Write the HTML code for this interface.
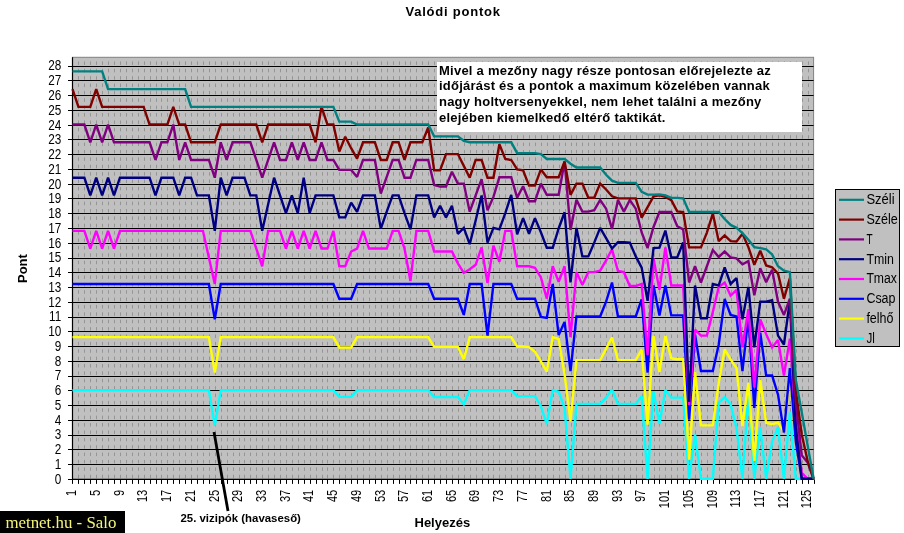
<!DOCTYPE html><html><head><meta charset="utf-8"><style>html,body{margin:0;padding:0;background:#fff;overflow:hidden;width:904px;height:533px}svg{display:block;will-change:transform}svg text{font-family:"Liberation Sans",sans-serif}svg text.serif{font-family:"Liberation Serif",serif}</style></head><body>
<svg width="904" height="533" viewBox="0 0 904 533">
<rect x="0" y="0" width="904" height="533" fill="#fff"/>
<rect x="72.5" y="57.3" width="741.1" height="422.09999999999997" fill="#c0c0c0" stroke="#808080" stroke-width="1"/>
<path d="M78.5 479.4V58.3M84.5 479.4V58.3M90.5 479.4V58.3M96.5 479.4V58.3M102.5 479.4V58.3M108.5 479.4V58.3M114.5 479.4V58.3M120.5 479.4V58.3M126.5 479.4V58.3M132.5 479.4V58.3M138.5 479.4V58.3M144.5 479.4V58.3M150.5 479.4V58.3M156.5 479.4V58.3M161.5 479.4V58.3M167.5 479.4V58.3M173.5 479.4V58.3M179.5 479.4V58.3M185.5 479.4V58.3M191.5 479.4V58.3M197.5 479.4V58.3M203.5 479.4V58.3M209.5 479.4V58.3M215.5 479.4V58.3M221.5 479.4V58.3M227.5 479.4V58.3M233.5 479.4V58.3M239.5 479.4V58.3M244.5 479.4V58.3M250.5 479.4V58.3M256.5 479.4V58.3M262.5 479.4V58.3M268.5 479.4V58.3M274.5 479.4V58.3M280.5 479.4V58.3M286.5 479.4V58.3M292.5 479.4V58.3M298.5 479.4V58.3M304.5 479.4V58.3M310.5 479.4V58.3M316.5 479.4V58.3M322.5 479.4V58.3M327.5 479.4V58.3M333.5 479.4V58.3M339.5 479.4V58.3M345.5 479.4V58.3M351.5 479.4V58.3M357.5 479.4V58.3M363.5 479.4V58.3M369.5 479.4V58.3M375.5 479.4V58.3M381.5 479.4V58.3M387.5 479.4V58.3M393.5 479.4V58.3M399.5 479.4V58.3M405.5 479.4V58.3M410.5 479.4V58.3M416.5 479.4V58.3M422.5 479.4V58.3M428.5 479.4V58.3M434.5 479.4V58.3M440.5 479.4V58.3M446.5 479.4V58.3M452.5 479.4V58.3M458.5 479.4V58.3M464.5 479.4V58.3M470.5 479.4V58.3M476.5 479.4V58.3M482.5 479.4V58.3M488.5 479.4V58.3M493.5 479.4V58.3M499.5 479.4V58.3M505.5 479.4V58.3M511.5 479.4V58.3M517.5 479.4V58.3M523.5 479.4V58.3M529.5 479.4V58.3M535.5 479.4V58.3M541.5 479.4V58.3M547.5 479.4V58.3M553.5 479.4V58.3M559.5 479.4V58.3M565.5 479.4V58.3M571.5 479.4V58.3M576.5 479.4V58.3M582.5 479.4V58.3M588.5 479.4V58.3M594.5 479.4V58.3M600.5 479.4V58.3M606.5 479.4V58.3M612.5 479.4V58.3M618.5 479.4V58.3M624.5 479.4V58.3M630.5 479.4V58.3M636.5 479.4V58.3M642.5 479.4V58.3M648.5 479.4V58.3M654.5 479.4V58.3M659.5 479.4V58.3M665.5 479.4V58.3M671.5 479.4V58.3M677.5 479.4V58.3M683.5 479.4V58.3M689.5 479.4V58.3M695.5 479.4V58.3M701.5 479.4V58.3M707.5 479.4V58.3M713.5 479.4V58.3M719.5 479.4V58.3M725.5 479.4V58.3M731.5 479.4V58.3M737.5 479.4V58.3M742.5 479.4V58.3M748.5 479.4V58.3M754.5 479.4V58.3M760.5 479.4V58.3M766.5 479.4V58.3M772.5 479.4V58.3M778.5 479.4V58.3M784.5 479.4V58.3M790.5 479.4V58.3M796.5 479.4V58.3M802.5 479.4V58.3M808.5 479.4V58.3" stroke="#959595" stroke-width="1" stroke-dasharray="0 1.19 3.5 3.88 3.5 2.69" fill="none"/>
<path d="M72.5 464.5H813.6M72.5 449.5H813.6M72.5 435.5H813.6M72.5 420.5H813.6M72.5 405.5H813.6M72.5 390.5H813.6M72.5 376.5H813.6M72.5 361.5H813.6M72.5 346.5H813.6M72.5 331.5H813.6M72.5 317.5H813.6M72.5 302.5H813.6M72.5 287.5H813.6M72.5 272.5H813.6M72.5 258.5H813.6M72.5 243.5H813.6M72.5 228.5H813.6M72.5 213.5H813.6M72.5 198.5H813.6M72.5 184.5H813.6M72.5 169.5H813.6M72.5 154.5H813.6M72.5 139.5H813.6M72.5 125.5H813.6M72.5 110.5H813.6M72.5 95.5H813.6M72.5 80.5H813.6M72.5 66.5H813.6" stroke="#000" stroke-width="1" fill="none"/>
<path d="M72.5 57.3V479.4H813.6" stroke="#000" stroke-width="1.2" fill="none"/>
<path d="M68.0 479.5H72.5M68.0 464.5H72.5M68.0 449.5H72.5M68.0 435.5H72.5M68.0 420.5H72.5M68.0 405.5H72.5M68.0 390.5H72.5M68.0 376.5H72.5M68.0 361.5H72.5M68.0 346.5H72.5M68.0 331.5H72.5M68.0 317.5H72.5M68.0 302.5H72.5M68.0 287.5H72.5M68.0 272.5H72.5M68.0 258.5H72.5M68.0 243.5H72.5M68.0 228.5H72.5M68.0 213.5H72.5M68.0 198.5H72.5M68.0 184.5H72.5M68.0 169.5H72.5M68.0 154.5H72.5M68.0 139.5H72.5M68.0 125.5H72.5M68.0 110.5H72.5M68.0 95.5H72.5M68.0 80.5H72.5M68.0 66.5H72.5" stroke="#000" stroke-width="1" fill="none"/>
<path d="M72.5 479.4V483.9M78.5 479.4V483.9M84.5 479.4V483.9M90.5 479.4V483.9M96.5 479.4V483.9M102.5 479.4V483.9M108.5 479.4V483.9M114.5 479.4V483.9M120.5 479.4V483.9M126.5 479.4V483.9M132.5 479.4V483.9M138.5 479.4V483.9M144.5 479.4V483.9M150.5 479.4V483.9M156.5 479.4V483.9M161.5 479.4V483.9M167.5 479.4V483.9M173.5 479.4V483.9M179.5 479.4V483.9M185.5 479.4V483.9M191.5 479.4V483.9M197.5 479.4V483.9M203.5 479.4V483.9M209.5 479.4V483.9M215.5 479.4V483.9M221.5 479.4V483.9M227.5 479.4V483.9M233.5 479.4V483.9M239.5 479.4V483.9M244.5 479.4V483.9M250.5 479.4V483.9M256.5 479.4V483.9M262.5 479.4V483.9M268.5 479.4V483.9M274.5 479.4V483.9M280.5 479.4V483.9M286.5 479.4V483.9M292.5 479.4V483.9M298.5 479.4V483.9M304.5 479.4V483.9M310.5 479.4V483.9M316.5 479.4V483.9M322.5 479.4V483.9M327.5 479.4V483.9M333.5 479.4V483.9M339.5 479.4V483.9M345.5 479.4V483.9M351.5 479.4V483.9M357.5 479.4V483.9M363.5 479.4V483.9M369.5 479.4V483.9M375.5 479.4V483.9M381.5 479.4V483.9M387.5 479.4V483.9M393.5 479.4V483.9M399.5 479.4V483.9M405.5 479.4V483.9M410.5 479.4V483.9M416.5 479.4V483.9M422.5 479.4V483.9M428.5 479.4V483.9M434.5 479.4V483.9M440.5 479.4V483.9M446.5 479.4V483.9M452.5 479.4V483.9M458.5 479.4V483.9M464.5 479.4V483.9M470.5 479.4V483.9M476.5 479.4V483.9M482.5 479.4V483.9M488.5 479.4V483.9M493.5 479.4V483.9M499.5 479.4V483.9M505.5 479.4V483.9M511.5 479.4V483.9M517.5 479.4V483.9M523.5 479.4V483.9M529.5 479.4V483.9M535.5 479.4V483.9M541.5 479.4V483.9M547.5 479.4V483.9M553.5 479.4V483.9M559.5 479.4V483.9M565.5 479.4V483.9M571.5 479.4V483.9M576.5 479.4V483.9M582.5 479.4V483.9M588.5 479.4V483.9M594.5 479.4V483.9M600.5 479.4V483.9M606.5 479.4V483.9M612.5 479.4V483.9M618.5 479.4V483.9M624.5 479.4V483.9M630.5 479.4V483.9M636.5 479.4V483.9M642.5 479.4V483.9M648.5 479.4V483.9M654.5 479.4V483.9M659.5 479.4V483.9M665.5 479.4V483.9M671.5 479.4V483.9M677.5 479.4V483.9M683.5 479.4V483.9M689.5 479.4V483.9M695.5 479.4V483.9M701.5 479.4V483.9M707.5 479.4V483.9M713.5 479.4V483.9M719.5 479.4V483.9M725.5 479.4V483.9M731.5 479.4V483.9M737.5 479.4V483.9M742.5 479.4V483.9M748.5 479.4V483.9M754.5 479.4V483.9M760.5 479.4V483.9M766.5 479.4V483.9M772.5 479.4V483.9M778.5 479.4V483.9M784.5 479.4V483.9M790.5 479.4V483.9M796.5 479.4V483.9M802.5 479.4V483.9M808.5 479.4V483.9M814.5 479.4V483.9" stroke="#000" stroke-width="1" fill="none"/>
<text transform="translate(61.3,483.7) scale(0.84,1)" font-size="14" text-anchor="end">0</text>
<text transform="translate(61.3,468.9) scale(0.84,1)" font-size="14" text-anchor="end">1</text>
<text transform="translate(61.3,454.2) scale(0.84,1)" font-size="14" text-anchor="end">2</text>
<text transform="translate(61.3,439.4) scale(0.84,1)" font-size="14" text-anchor="end">3</text>
<text transform="translate(61.3,424.7) scale(0.84,1)" font-size="14" text-anchor="end">4</text>
<text transform="translate(61.3,409.9) scale(0.84,1)" font-size="14" text-anchor="end">5</text>
<text transform="translate(61.3,395.1) scale(0.84,1)" font-size="14" text-anchor="end">6</text>
<text transform="translate(61.3,380.4) scale(0.84,1)" font-size="14" text-anchor="end">7</text>
<text transform="translate(61.3,365.6) scale(0.84,1)" font-size="14" text-anchor="end">8</text>
<text transform="translate(61.3,350.9) scale(0.84,1)" font-size="14" text-anchor="end">9</text>
<text transform="translate(61.3,336.1) scale(0.84,1)" font-size="14" text-anchor="end">10</text>
<text transform="translate(61.3,321.3) scale(0.84,1)" font-size="14" text-anchor="end">11</text>
<text transform="translate(61.3,306.6) scale(0.84,1)" font-size="14" text-anchor="end">12</text>
<text transform="translate(61.3,291.8) scale(0.84,1)" font-size="14" text-anchor="end">13</text>
<text transform="translate(61.3,277.1) scale(0.84,1)" font-size="14" text-anchor="end">14</text>
<text transform="translate(61.3,262.3) scale(0.84,1)" font-size="14" text-anchor="end">15</text>
<text transform="translate(61.3,247.5) scale(0.84,1)" font-size="14" text-anchor="end">16</text>
<text transform="translate(61.3,232.8) scale(0.84,1)" font-size="14" text-anchor="end">17</text>
<text transform="translate(61.3,218.0) scale(0.84,1)" font-size="14" text-anchor="end">18</text>
<text transform="translate(61.3,203.3) scale(0.84,1)" font-size="14" text-anchor="end">19</text>
<text transform="translate(61.3,188.5) scale(0.84,1)" font-size="14" text-anchor="end">20</text>
<text transform="translate(61.3,173.7) scale(0.84,1)" font-size="14" text-anchor="end">21</text>
<text transform="translate(61.3,159.0) scale(0.84,1)" font-size="14" text-anchor="end">22</text>
<text transform="translate(61.3,144.2) scale(0.84,1)" font-size="14" text-anchor="end">23</text>
<text transform="translate(61.3,129.5) scale(0.84,1)" font-size="14" text-anchor="end">24</text>
<text transform="translate(61.3,114.7) scale(0.84,1)" font-size="14" text-anchor="end">25</text>
<text transform="translate(61.3,99.9) scale(0.84,1)" font-size="14" text-anchor="end">26</text>
<text transform="translate(61.3,85.2) scale(0.84,1)" font-size="14" text-anchor="end">27</text>
<text transform="translate(61.3,70.4) scale(0.84,1)" font-size="14" text-anchor="end">28</text>
<text transform="translate(76.2,489.8) rotate(-90) scale(0.79,1)" font-size="14" text-anchor="end">1</text>
<text transform="translate(99.9,489.8) rotate(-90) scale(0.79,1)" font-size="14" text-anchor="end">5</text>
<text transform="translate(123.6,489.8) rotate(-90) scale(0.79,1)" font-size="14" text-anchor="end">9</text>
<text transform="translate(147.3,489.8) rotate(-90) scale(0.79,1)" font-size="14" text-anchor="end">13</text>
<text transform="translate(171.1,489.8) rotate(-90) scale(0.79,1)" font-size="14" text-anchor="end">17</text>
<text transform="translate(194.8,489.8) rotate(-90) scale(0.79,1)" font-size="14" text-anchor="end">21</text>
<text transform="translate(218.5,489.8) rotate(-90) scale(0.79,1)" font-size="14" text-anchor="end">25</text>
<text transform="translate(242.2,489.8) rotate(-90) scale(0.79,1)" font-size="14" text-anchor="end">29</text>
<text transform="translate(265.9,489.8) rotate(-90) scale(0.79,1)" font-size="14" text-anchor="end">33</text>
<text transform="translate(289.6,489.8) rotate(-90) scale(0.79,1)" font-size="14" text-anchor="end">37</text>
<text transform="translate(313.4,489.8) rotate(-90) scale(0.79,1)" font-size="14" text-anchor="end">41</text>
<text transform="translate(337.1,489.8) rotate(-90) scale(0.79,1)" font-size="14" text-anchor="end">45</text>
<text transform="translate(360.8,489.8) rotate(-90) scale(0.79,1)" font-size="14" text-anchor="end">49</text>
<text transform="translate(384.5,489.8) rotate(-90) scale(0.79,1)" font-size="14" text-anchor="end">53</text>
<text transform="translate(408.2,489.8) rotate(-90) scale(0.79,1)" font-size="14" text-anchor="end">57</text>
<text transform="translate(431.9,489.8) rotate(-90) scale(0.79,1)" font-size="14" text-anchor="end">61</text>
<text transform="translate(455.6,489.8) rotate(-90) scale(0.79,1)" font-size="14" text-anchor="end">65</text>
<text transform="translate(479.4,489.8) rotate(-90) scale(0.79,1)" font-size="14" text-anchor="end">69</text>
<text transform="translate(503.1,489.8) rotate(-90) scale(0.79,1)" font-size="14" text-anchor="end">73</text>
<text transform="translate(526.8,489.8) rotate(-90) scale(0.79,1)" font-size="14" text-anchor="end">77</text>
<text transform="translate(550.5,489.8) rotate(-90) scale(0.79,1)" font-size="14" text-anchor="end">81</text>
<text transform="translate(574.2,489.8) rotate(-90) scale(0.79,1)" font-size="14" text-anchor="end">85</text>
<text transform="translate(597.9,489.8) rotate(-90) scale(0.79,1)" font-size="14" text-anchor="end">89</text>
<text transform="translate(621.6,489.8) rotate(-90) scale(0.79,1)" font-size="14" text-anchor="end">93</text>
<text transform="translate(645.4,489.8) rotate(-90) scale(0.79,1)" font-size="14" text-anchor="end">97</text>
<text transform="translate(669.1,489.8) rotate(-90) scale(0.79,1)" font-size="14" text-anchor="end">101</text>
<text transform="translate(692.8,489.8) rotate(-90) scale(0.79,1)" font-size="14" text-anchor="end">105</text>
<text transform="translate(716.5,489.8) rotate(-90) scale(0.79,1)" font-size="14" text-anchor="end">109</text>
<text transform="translate(740.2,489.8) rotate(-90) scale(0.79,1)" font-size="14" text-anchor="end">113</text>
<text transform="translate(763.9,489.8) rotate(-90) scale(0.79,1)" font-size="14" text-anchor="end">117</text>
<text transform="translate(787.7,489.8) rotate(-90) scale(0.79,1)" font-size="14" text-anchor="end">121</text>
<text transform="translate(811.4,489.8) rotate(-90) scale(0.79,1)" font-size="14" text-anchor="end">125</text>
<polyline points="72.50,390.24 78.43,390.24 84.36,390.24 90.29,390.24 96.22,390.24 102.14,390.24 108.07,390.24 114.00,390.24 119.93,390.24 125.86,390.24 131.79,390.24 137.72,390.24 143.65,390.24 149.57,390.24 155.50,390.24 161.43,390.24 167.36,390.24 173.29,390.24 179.22,390.24 185.15,390.24 191.08,390.24 197.00,390.24 202.93,390.24 208.86,390.24 214.79,425.66 220.72,390.24 226.65,390.24 232.58,390.24 238.51,390.24 244.44,390.24 250.36,390.24 256.29,390.24 262.22,390.24 268.15,390.24 274.08,390.24 280.01,390.24 285.94,390.24 291.87,390.24 297.79,390.24 303.72,390.24 309.65,390.24 315.58,390.24 321.51,390.24 327.44,390.24 333.37,390.24 339.30,396.88 345.22,396.88 351.15,396.88 357.08,390.24 363.01,390.24 368.94,390.24 374.87,390.24 380.80,390.24 386.73,390.24 392.66,390.24 398.58,390.24 404.51,390.24 410.44,390.24 416.37,390.24 422.30,390.24 428.23,390.24 434.16,397.03 440.09,397.03 446.01,397.03 451.94,397.03 457.87,397.03 463.80,404.26 469.73,390.24 475.66,390.24 481.59,390.24 487.52,390.24 493.44,390.24 499.37,390.24 505.30,390.24 511.23,390.24 517.16,396.14 523.09,396.14 529.02,396.14 534.95,396.14 540.88,406.18 546.80,424.19 552.73,390.24 558.66,391.72 564.59,407.95 570.52,478.80 576.45,403.97 582.38,403.97 588.31,403.97 594.23,403.97 600.16,403.97 606.09,397.62 612.02,389.35 617.95,403.97 623.88,403.97 629.81,403.97 635.74,403.97 641.66,396.14 647.59,478.80 653.52,391.42 659.45,423.89 665.38,390.24 671.31,397.62 677.24,397.62 683.17,397.62 689.10,478.80 695.02,434.52 700.95,478.80 706.88,478.80 712.81,478.80 718.74,402.64 724.67,397.18 730.60,404.41 736.53,428.17 742.45,478.80 748.38,395.41 754.31,478.80 760.24,427.14 766.17,478.80 772.10,441.90 778.03,427.14 783.96,478.80 789.88,412.38 795.81,478.80 801.74,478.80 807.67,478.80 813.60,478.80" fill="none" stroke="#00FFFF" stroke-width="2.4" stroke-linejoin="miter" stroke-miterlimit="2"/>
<polyline points="72.50,337.10 78.43,337.10 84.36,337.10 90.29,337.10 96.22,337.10 102.14,337.10 108.07,337.10 114.00,337.10 119.93,337.10 125.86,337.10 131.79,337.10 137.72,337.10 143.65,337.10 149.57,337.10 155.50,337.10 161.43,337.10 167.36,337.10 173.29,337.10 179.22,337.10 185.15,337.10 191.08,337.10 197.00,337.10 202.93,337.10 208.86,337.10 214.79,372.53 220.72,337.10 226.65,337.10 232.58,337.10 238.51,337.10 244.44,337.10 250.36,337.10 256.29,337.10 262.22,337.10 268.15,337.10 274.08,337.10 280.01,337.10 285.94,337.10 291.87,337.10 297.79,337.10 303.72,337.10 309.65,337.10 315.58,337.10 321.51,337.10 327.44,337.10 333.37,337.10 339.30,347.44 345.22,347.44 351.15,347.44 357.08,337.10 363.01,337.10 368.94,337.10 374.87,337.10 380.80,337.10 386.73,337.10 392.66,337.10 398.58,337.10 404.51,337.10 410.44,337.10 416.37,337.10 422.30,337.10 428.23,337.10 434.16,346.85 440.09,346.85 446.01,346.85 451.94,346.85 457.87,346.85 463.80,359.24 469.73,337.10 475.66,337.10 481.59,337.10 487.52,337.10 493.44,337.10 499.37,337.10 505.30,337.10 511.23,337.10 517.16,346.55 523.09,346.55 529.02,347.14 534.95,351.86 540.88,361.31 546.80,371.64 552.73,337.10 558.66,339.17 564.59,374.45 570.52,421.24 576.45,360.13 582.38,360.13 588.31,360.13 594.23,360.13 600.16,360.13 606.09,348.91 612.02,337.55 617.95,360.13 623.88,360.13 629.81,360.13 635.74,360.13 641.66,349.65 647.59,424.63 653.52,335.92 659.45,371.94 665.38,335.92 671.31,358.36 677.24,359.24 683.17,359.24 689.10,459.61 695.02,371.94 700.95,425.37 706.88,425.37 712.81,425.37 718.74,382.86 724.67,349.35 730.60,359.39 736.53,368.10 742.45,426.25 748.38,382.86 754.31,460.79 760.24,379.91 766.17,422.71 772.10,424.19 778.03,422.71 783.96,431.57 789.88,375.48 795.81,441.90 801.74,478.80 807.67,478.80 813.60,478.80" fill="none" stroke="#FFFF00" stroke-width="2.4" stroke-linejoin="miter" stroke-miterlimit="2"/>
<polyline points="72.50,283.97 78.43,283.97 84.36,283.97 90.29,283.97 96.22,283.97 102.14,283.97 108.07,283.97 114.00,283.97 119.93,283.97 125.86,283.97 131.79,283.97 137.72,283.97 143.65,283.97 149.57,283.97 155.50,283.97 161.43,283.97 167.36,283.97 173.29,283.97 179.22,283.97 185.15,283.97 191.08,283.97 197.00,283.97 202.93,283.97 208.86,283.97 214.79,319.39 220.72,283.97 226.65,283.97 232.58,283.97 238.51,283.97 244.44,283.97 250.36,283.97 256.29,283.97 262.22,283.97 268.15,283.97 274.08,283.97 280.01,283.97 285.94,283.97 291.87,283.97 297.79,283.97 303.72,283.97 309.65,283.97 315.58,283.97 321.51,283.97 327.44,283.97 333.37,283.97 339.30,298.73 345.22,298.73 351.15,298.73 357.08,283.97 363.01,283.97 368.94,283.97 374.87,283.97 380.80,283.97 386.73,283.97 392.66,283.97 398.58,283.97 404.51,283.97 410.44,283.97 416.37,283.97 422.30,283.97 428.23,283.97 434.16,298.73 440.09,298.73 446.01,298.73 451.94,298.73 457.87,298.73 463.80,314.96 469.73,283.97 475.66,283.97 481.59,283.97 487.52,335.63 493.44,283.97 499.37,283.97 505.30,283.97 511.23,283.97 517.16,298.73 523.09,298.73 529.02,298.73 534.95,298.73 540.88,316.88 546.80,317.92 552.73,283.97 558.66,335.04 564.59,321.90 570.52,371.05 576.45,316.44 582.38,316.44 588.31,316.44 594.23,316.44 600.16,316.44 606.09,301.68 612.02,282.49 617.95,316.44 623.88,316.44 629.81,316.44 635.74,316.44 641.66,299.47 647.59,372.53 653.52,285.44 659.45,315.41 665.38,285.44 671.31,315.41 677.24,315.41 683.17,315.41 689.10,419.76 695.02,334.45 700.95,371.05 706.88,371.05 712.81,371.05 718.74,344.48 724.67,298.88 730.60,314.96 736.53,316.44 742.45,371.05 748.38,316.44 754.31,407.95 760.24,332.68 766.17,375.48 772.10,375.48 778.03,394.67 783.96,432.45 789.88,368.10 795.81,441.90 801.74,478.80 807.67,478.80 813.60,478.80" fill="none" stroke="#0000FF" stroke-width="2.4" stroke-linejoin="miter" stroke-miterlimit="2"/>
<polyline points="72.50,230.83 78.43,230.83 84.36,230.83 90.29,248.54 96.22,230.83 102.14,248.54 108.07,230.83 114.00,248.54 119.93,230.83 125.86,230.83 131.79,230.83 137.72,230.83 143.65,230.83 149.57,230.83 155.50,230.83 161.43,230.83 167.36,230.83 173.29,230.83 179.22,230.83 185.15,230.83 191.08,230.83 197.00,230.83 202.93,230.83 208.86,257.40 214.79,283.97 220.72,230.83 226.65,230.83 232.58,230.83 238.51,230.83 244.44,230.83 250.36,230.83 256.29,248.54 262.22,266.26 268.15,230.83 274.08,230.83 280.01,230.83 285.94,248.54 291.87,230.83 297.79,248.54 303.72,230.83 309.65,248.54 315.58,230.83 321.51,248.54 327.44,248.54 333.37,230.83 339.30,266.26 345.22,266.26 351.15,251.50 357.08,248.54 363.01,230.83 368.94,248.54 374.87,248.54 380.80,248.54 386.73,248.54 392.66,230.83 398.58,230.83 404.51,248.54 410.44,281.02 416.37,230.83 422.30,230.83 428.23,230.83 434.16,251.50 440.09,251.50 446.01,251.50 451.94,251.50 457.87,263.30 463.80,272.90 469.73,269.21 475.66,264.78 481.59,247.51 487.52,282.93 493.44,245.59 499.37,261.83 505.30,230.83 511.23,230.83 517.16,266.26 523.09,266.26 529.02,266.26 534.95,267.73 540.88,277.47 546.80,298.58 552.73,266.26 558.66,281.75 564.59,266.26 570.52,337.10 576.45,272.16 582.38,284.71 588.31,272.16 594.23,272.16 600.16,270.68 606.09,260.35 612.02,249.28 617.95,270.98 623.88,272.16 629.81,286.03 635.74,286.03 641.66,283.97 647.59,354.82 653.52,258.58 659.45,289.87 665.38,247.36 671.31,285.44 677.24,285.44 683.17,285.44 689.10,405.00 695.02,329.72 700.95,335.63 706.88,335.63 712.81,312.01 718.74,286.92 724.67,282.49 730.60,295.78 736.53,289.87 742.45,347.44 748.38,309.06 754.31,387.29 760.24,319.39 766.17,334.15 772.10,347.44 778.03,340.06 783.96,375.48 789.88,338.58 795.81,419.76 801.74,472.90 807.67,478.80 813.60,478.80" fill="none" stroke="#FF00FF" stroke-width="2.4" stroke-linejoin="miter" stroke-miterlimit="2"/>
<polyline points="72.50,177.70 78.43,177.70 84.36,177.70 90.29,195.41 96.22,177.70 102.14,195.41 108.07,177.70 114.00,195.41 119.93,177.70 125.86,177.70 131.79,177.70 137.72,177.70 143.65,177.70 149.57,177.70 155.50,195.41 161.43,177.70 167.36,177.70 173.29,177.70 179.22,195.41 185.15,177.70 191.08,177.70 197.00,195.41 202.93,195.41 208.86,195.41 214.79,230.83 220.72,177.70 226.65,195.41 232.58,177.70 238.51,177.70 244.44,177.70 250.36,195.41 256.29,195.41 262.22,230.83 268.15,204.26 274.08,177.70 280.01,195.41 285.94,213.12 291.87,195.41 297.79,213.12 303.72,177.70 309.65,213.12 315.58,195.41 321.51,195.41 327.44,195.41 333.37,195.41 339.30,217.40 345.22,217.40 351.15,202.64 357.08,211.79 363.01,195.41 368.94,195.41 374.87,195.41 380.80,228.62 386.73,211.64 392.66,195.41 398.58,195.41 404.51,213.12 410.44,229.36 416.37,195.41 422.30,195.41 428.23,195.41 434.16,217.55 440.09,205.74 446.01,217.55 451.94,205.74 457.87,233.78 463.80,227.88 469.73,244.12 475.66,220.50 481.59,195.41 487.52,242.64 493.44,227.88 499.37,229.36 505.30,213.12 511.23,194.97 517.16,234.37 523.09,218.14 529.02,233.78 534.95,218.14 540.88,232.31 546.80,247.81 552.73,247.81 558.66,228.47 564.59,212.23 570.52,282.49 576.45,227.88 582.38,256.37 588.31,256.37 594.23,242.64 600.16,227.88 606.09,238.21 612.02,248.54 617.95,242.20 623.88,242.20 629.81,242.64 635.74,256.37 641.66,267.58 647.59,300.79 653.52,248.10 659.45,247.66 665.38,230.54 671.31,257.40 677.24,257.40 683.17,242.49 689.10,402.05 695.02,285.44 700.95,318.36 706.88,318.36 712.81,283.97 718.74,285.44 724.67,267.44 730.60,283.97 736.53,278.06 742.45,319.39 748.38,286.92 754.31,347.44 760.24,301.68 766.17,301.68 772.10,300.20 778.03,335.63 783.96,344.48 789.88,300.20 795.81,427.14 801.74,478.80 807.67,478.80 813.60,478.80" fill="none" stroke="#000080" stroke-width="2.4" stroke-linejoin="miter" stroke-miterlimit="2"/>
<polyline points="72.50,124.56 78.43,124.56 84.36,124.56 90.29,142.27 96.22,124.56 102.14,142.27 108.07,124.56 114.00,142.27 119.93,142.27 125.86,142.27 131.79,142.27 137.72,142.27 143.65,142.27 149.57,142.27 155.50,159.98 161.43,142.27 167.36,142.27 173.29,124.56 179.22,159.98 185.15,142.27 191.08,159.98 197.00,159.98 202.93,159.98 208.86,159.98 214.79,177.70 220.72,142.27 226.65,159.98 232.58,142.27 238.51,142.27 244.44,142.27 250.36,142.27 256.29,159.98 262.22,177.70 268.15,159.98 274.08,142.27 280.01,159.98 285.94,159.98 291.87,142.27 297.79,159.98 303.72,142.27 309.65,159.98 315.58,159.98 321.51,142.27 327.44,159.98 333.37,159.98 339.30,169.87 345.22,169.87 351.15,169.87 357.08,176.96 363.01,159.98 368.94,159.98 374.87,159.98 380.80,193.49 386.73,176.96 392.66,159.98 398.58,159.98 404.51,177.70 410.44,177.70 416.37,159.98 422.30,159.98 428.23,159.98 434.16,185.08 440.09,186.55 446.01,186.55 451.94,171.79 457.87,183.60 463.80,183.60 469.73,211.64 475.66,195.41 481.59,179.17 487.52,210.17 493.44,196.88 499.37,177.25 505.30,177.25 511.23,177.25 517.16,197.62 523.09,186.26 529.02,201.31 534.95,201.31 540.88,183.60 546.80,194.82 552.73,194.82 558.66,194.82 564.59,161.76 570.52,229.95 576.45,199.84 582.38,211.64 588.31,211.64 594.23,210.17 600.16,199.98 606.09,208.69 612.02,228.91 617.95,199.98 623.88,211.64 629.81,199.98 635.74,208.69 641.66,232.46 647.59,247.95 653.52,226.99 659.45,211.94 665.38,211.94 671.31,211.94 677.24,226.26 683.17,229.36 689.10,282.49 695.02,266.26 700.95,282.49 706.88,266.26 712.81,250.02 718.74,256.96 724.67,251.50 730.60,257.40 736.53,258.29 742.45,264.34 748.38,261.09 754.31,295.33 760.24,268.32 766.17,282.34 772.10,269.65 778.03,301.83 783.96,314.96 789.88,298.73 795.81,402.05 801.74,455.18 807.67,462.56 813.60,478.80" fill="none" stroke="#800080" stroke-width="2.4" stroke-linejoin="miter" stroke-miterlimit="2"/>
<polyline points="72.50,89.14 78.43,106.85 84.36,106.85 90.29,106.85 96.22,89.14 102.14,106.85 108.07,106.85 114.00,106.85 119.93,106.85 125.86,106.85 131.79,106.85 137.72,106.85 143.65,106.85 149.57,124.56 155.50,124.56 161.43,124.56 167.36,124.56 173.29,106.85 179.22,124.56 185.15,124.56 191.08,142.27 197.00,142.27 202.93,142.27 208.86,142.27 214.79,142.27 220.72,124.56 226.65,124.56 232.58,124.56 238.51,124.56 244.44,124.56 250.36,124.56 256.29,124.56 262.22,142.27 268.15,124.56 274.08,124.56 280.01,124.56 285.94,124.56 291.87,124.56 297.79,124.56 303.72,124.56 309.65,124.56 315.58,142.27 321.51,106.85 327.44,124.56 333.37,124.56 339.30,151.57 345.22,136.81 351.15,148.18 357.08,158.66 363.01,142.27 368.94,142.27 374.87,142.27 380.80,159.98 386.73,159.98 392.66,142.27 398.58,142.27 404.51,159.98 410.44,142.27 416.37,142.27 422.30,142.27 428.23,127.51 434.16,170.32 440.09,170.32 446.01,154.08 451.94,154.08 457.87,154.08 463.80,165.89 469.73,177.70 475.66,159.98 481.59,159.98 487.52,177.70 493.44,177.70 499.37,144.19 505.30,158.95 511.23,159.98 517.16,169.43 523.09,170.32 529.02,185.67 534.95,185.67 540.88,169.43 546.80,177.25 552.73,177.25 558.66,177.25 564.59,161.46 570.52,194.82 576.45,183.60 582.38,183.60 588.31,197.77 594.23,197.77 600.16,183.60 606.09,189.50 612.02,196.29 617.95,198.36 623.88,198.36 629.81,198.36 635.74,198.36 641.66,217.55 647.59,207.22 653.52,196.44 659.45,195.41 665.38,196.88 671.31,200.13 677.24,211.35 683.17,212.09 689.10,247.36 695.02,247.36 700.95,247.36 706.88,232.60 712.81,213.56 718.74,241.16 724.67,235.41 730.60,241.16 736.53,241.46 742.45,233.78 748.38,247.07 754.31,264.78 760.24,250.76 766.17,265.52 772.10,267.29 778.03,273.64 783.96,298.73 789.88,278.06 795.81,390.24 801.74,434.52 807.67,461.09 813.60,478.80" fill="none" stroke="#800000" stroke-width="2.4" stroke-linejoin="miter" stroke-miterlimit="2"/>
<polyline points="72.50,71.42 78.43,71.42 84.36,71.42 90.29,71.42 96.22,71.42 102.14,71.42 108.07,89.14 114.00,89.14 119.93,89.14 125.86,89.14 131.79,89.14 137.72,89.14 143.65,89.14 149.57,89.14 155.50,89.14 161.43,89.14 167.36,89.14 173.29,89.14 179.22,89.14 185.15,89.14 191.08,106.85 197.00,106.85 202.93,106.85 208.86,106.85 214.79,106.85 220.72,106.85 226.65,106.85 232.58,106.85 238.51,106.85 244.44,106.85 250.36,106.85 256.29,106.85 262.22,106.85 268.15,106.85 274.08,106.85 280.01,106.85 285.94,106.85 291.87,106.85 297.79,106.85 303.72,106.85 309.65,106.85 315.58,106.85 321.51,106.85 327.44,106.85 333.37,106.85 339.30,121.61 345.22,121.61 351.15,121.61 357.08,124.56 363.01,124.56 368.94,124.56 374.87,124.56 380.80,124.56 386.73,124.56 392.66,124.56 398.58,124.56 404.51,124.56 410.44,124.56 416.37,124.56 422.30,124.56 428.23,124.56 434.16,136.37 440.09,136.37 446.01,136.37 451.94,136.37 457.87,136.37 463.80,140.80 469.73,142.27 475.66,142.27 481.59,142.27 487.52,142.27 493.44,142.27 499.37,142.27 505.30,142.27 511.23,142.27 517.16,153.19 523.09,153.19 529.02,153.19 534.95,153.19 540.88,154.08 546.80,158.95 552.73,158.95 558.66,158.95 564.59,158.95 570.52,163.67 576.45,167.51 582.38,167.51 588.31,167.51 594.23,167.51 600.16,167.51 606.09,174.74 612.02,180.65 617.95,182.86 623.88,182.86 629.81,182.86 635.74,182.86 641.66,191.72 647.59,194.67 653.52,194.67 659.45,194.37 665.38,195.41 671.31,197.92 677.24,197.92 683.17,198.36 689.10,211.94 695.02,211.94 700.95,211.94 706.88,211.94 712.81,211.94 718.74,211.94 724.67,219.02 730.60,224.93 736.53,227.88 742.45,233.05 748.38,239.69 754.31,247.07 760.24,248.10 766.17,249.28 772.10,254.45 778.03,266.26 783.96,270.68 789.88,272.16 795.81,379.91 801.74,412.38 807.67,445.59 813.60,478.80" fill="none" stroke="#008080" stroke-width="2.4" stroke-linejoin="miter" stroke-miterlimit="2"/>
<rect x="437" y="62" width="365" height="70" fill="#fff"/>
<text x="439" y="74.5" font-size="13" font-weight="bold" textLength="331.7" lengthAdjust="spacing">Mivel a mezőny nagy része pontosan előrejelezte az</text>
<text x="439" y="90.2" font-size="13" font-weight="bold" textLength="330.7" lengthAdjust="spacing">időjárást és a pontok a maximum közelében vannak</text>
<text x="439" y="105.9" font-size="13" font-weight="bold" textLength="322.3" lengthAdjust="spacing">nagy holtversenyekkel, nem lehet találni a mezőny</text>
<text x="439" y="121.6" font-size="13" font-weight="bold" textLength="226.4" lengthAdjust="spacing">elejében kiemelkedő eltérő taktikát.</text>
<rect x="835.5" y="189.5" width="64" height="157" fill="#c0c0c0" stroke="#000" stroke-width="1"/>
<path d="M839 199.8H864" stroke="#008080" stroke-width="2.2"/>
<text x="866.4" y="204.2" font-size="14" textLength="28.2" lengthAdjust="spacingAndGlyphs">Széli</text>
<path d="M839 219.6H864" stroke="#800000" stroke-width="2.2"/>
<text x="866.4" y="224.0" font-size="14" textLength="31.4" lengthAdjust="spacingAndGlyphs">Széle</text>
<path d="M839 239.4H864" stroke="#800080" stroke-width="2.2"/>
<text x="866.4" y="243.8" font-size="14" textLength="6.1" lengthAdjust="spacingAndGlyphs">T</text>
<path d="M839 259.2H864" stroke="#000080" stroke-width="2.2"/>
<text x="866.4" y="263.6" font-size="14" textLength="27.5" lengthAdjust="spacingAndGlyphs">Tmin</text>
<path d="M839 279.0H864" stroke="#FF00FF" stroke-width="2.2"/>
<text x="866.4" y="283.4" font-size="14" textLength="30.5" lengthAdjust="spacingAndGlyphs">Tmax</text>
<path d="M839 298.8H864" stroke="#0000FF" stroke-width="2.2"/>
<text x="866.4" y="303.2" font-size="14" textLength="29.1" lengthAdjust="spacingAndGlyphs">Csap</text>
<path d="M839 318.6H864" stroke="#FFFF00" stroke-width="2.2"/>
<text x="866.4" y="323.0" font-size="14" textLength="27.1" lengthAdjust="spacingAndGlyphs">felhő</text>
<path d="M839 338.4H864" stroke="#00FFFF" stroke-width="2.2"/>
<text x="866.4" y="342.8" font-size="14" textLength="8.4" lengthAdjust="spacingAndGlyphs">Jl</text>
<text x="452.7" y="15.8" font-size="13" font-weight="bold" text-anchor="middle" textLength="94.5" lengthAdjust="spacing">Valódi pontok</text>
<text transform="translate(27,283) rotate(-90)" font-size="13" font-weight="bold">Pont</text>
<text x="414.5" y="526.7" font-size="13" font-weight="bold">Helyezés</text>
<text x="180.5" y="522.3" font-size="11" font-weight="bold" textLength="120.4" lengthAdjust="spacingAndGlyphs">25. vizipók (havaseső)</text>
<path d="M214 432 L228 511" stroke="#000" stroke-width="2.8"/>
<rect x="0" y="511" width="125" height="22" fill="#000"/>
<text x="5.4" y="527.6" font-size="17" class="serif" fill="#f4f47a" textLength="111" lengthAdjust="spacingAndGlyphs">metnet.hu - Salo</text>
</svg></body></html>
